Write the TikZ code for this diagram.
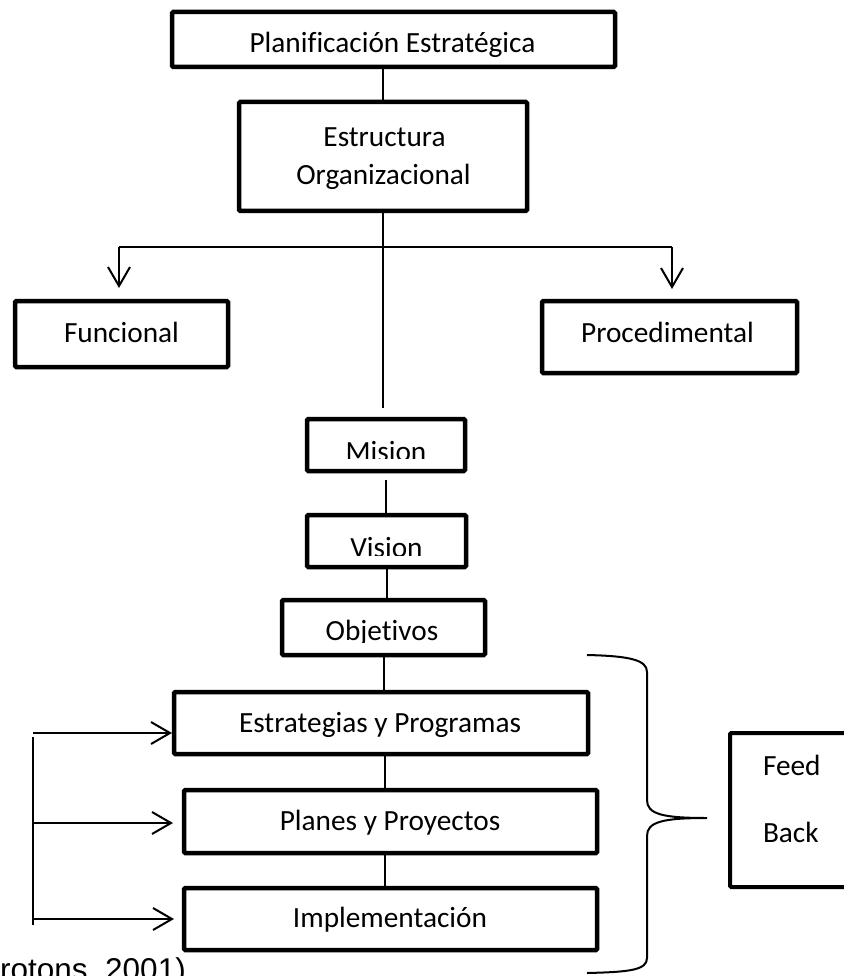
\documentclass[tikz,border=0pt]{standalone}
\usepackage{fontspec}
\setmainfont[Ligatures=NoCommon]{Carlito}
\newfontfamily\citefont{Liberation Sans}
\usetikzlibrary{arrows.meta}
\begin{document}
\begin{tikzpicture}[x=1pt,y=-1pt,
  box/.style={draw, line width=4.5pt, rounded corners=1.2pt, inner sep=0pt, outer sep=0pt},
  lbl/.style={anchor=base, inner sep=0pt, outer sep=0pt, font=\fontsize{29.3}{34}\selectfont},
  link/.style={line width=2pt},
  barb/.style={-{Straight Barb[length=19pt,width=22pt,line width=2pt]}}]
\useasboundingbox (0,0) rectangle (843,976);

% boxes
\node[box, minimum width=443pt, minimum height=55pt]  (plan) at (393.5,39.5) {};
\node[box, minimum width=288pt, minimum height=109pt] (estr) at (383,156.5) {};
\node[box, minimum width=213pt, minimum height=66pt]  (func) at (121.5,334) {};
\node[box, minimum width=255pt, minimum height=72pt]  (proc) at (669.5,337) {};
\node[box, minimum width=158pt, minimum height=52pt]  (mis)  at (386,445) {};
\node[box, minimum width=159pt, minimum height=52pt]  (vis)  at (386.5,541) {};
\node[box, minimum width=203pt, minimum height=55pt]  (obj)  at (383.5,627.5) {};
\node[box, minimum width=414pt, minimum height=62pt]  (est)  at (381,723) {};
\node[box, minimum width=413pt, minimum height=63pt]  (plp)  at (390.5,821.5) {};
\node[box, minimum width=413pt, minimum height=62pt]  (imp)  at (390.5,919) {};
\node[box, line width=4pt, minimum width=140pt, minimum height=154pt] (feed) at (800,810) {};

% labels
\node[lbl] (plan-t)  at (392.5,53)  {Planif\kern0pt icación Estratégica};
\node[lbl] (estr-t1) at (384.5,147) {Estructura};
\node[lbl] (estr-t2) at (383.5,185) {Organizacional};
\node[lbl] (func-t)  at (121.5,342) {Funcional};
\node[lbl] (proc-t)  at (667.5,342) {Procedimental};
\begin{scope}
  \clip (307,419) rectangle (465,458);
  \node[lbl] (mis-t) at (386,461.5) {Mision};
\end{scope}
\begin{scope}
  \clip (307,515) rectangle (466,555);
  \node[lbl] (vis-t) at (386.5,557.5) {Vision};
\end{scope}
\begin{scope}
  \clip (282,600) rectangle (485,642);
  \node[lbl] (obj-t) at (382,640) {Objetivos};
\end{scope}
\node[lbl] (est-t) at (380,732) {Estrategias y Programas};
\node[lbl] (plp-t) at (390,830) {Planes y Proyectos};
\node[lbl] (imp-t) at (390,927) {Implementación};
\node[lbl, anchor=base west] (feed-t1) at (763,775) {Feed};
\node[lbl, anchor=base west] (feed-t2) at (763,842) {Back};

% main spine
\coordinate (axis) at (385,0);
\draw[link] (estr.north |- plan.south) -- (estr.north);
\draw[link, shorten >=11pt] (estr.south) -- (estr.south |- mis.north);
\draw[link, shorten <=9pt] (mis.south) -- (mis.south |- vis.north);
\draw[link] (vis.south) -- (vis.south |- obj.north);
\draw[link] (obj.south) -- (obj.south |- est.north);
\draw[link] (axis |- est.south) -- (axis |- plp.north);
\draw[link] (axis |- plp.south) -- (axis |- imp.north);

% branch to the two structure types
\coordinate (bl) at (119,247);
\coordinate (br) at (672,247);
\draw[link] (bl) -- (br);
\draw[link, barb, shorten >=13pt] (bl) -- (bl |- func.north);
\draw[link, barb, shorten >=12pt] (br) -- (br |- proc.north);

% return arrows on the left
\coordinate (fa) at (33,733);
\coordinate (fb) at (33,823);
\coordinate (fc) at (33,919);
\draw[link] (33,737) -- (33,925);
\draw[link, barb, shorten >=2pt]  (fa) -- (fa -| est.west);
\draw[link, barb, shorten >=11pt] (fb) -- (fb -| plp.west);
\draw[link, barb, shorten >=10pt] (fc) -- (fc -| imp.west);

% brace towards the feedback box
\coordinate (bt) at (707,818);
\draw[link] (587,655) .. controls (630,656) and (647,660) .. (647,672)
  -- (647,800) .. controls (647,814) and (662,818) .. (bt)
  .. controls (662,818) and (647,822) .. (647,836)
  -- (647,958) .. controls (647,970) and (630,972) .. (587,973);

% source note
\node[anchor=base west, inner sep=0pt, font=\citefont\fontsize{31.5}{36}\selectfont] (cite) at (0,980) {rotons, 2001)};
\end{tikzpicture}
\end{document}
